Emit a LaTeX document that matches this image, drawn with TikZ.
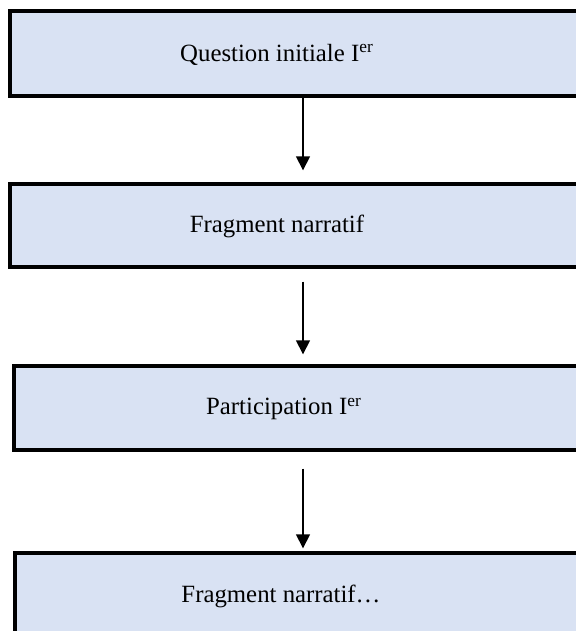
\documentclass[tikz,border=0pt]{standalone}
\usepackage{fontspec}
\setmainfont{Liberation Serif}
\usetikzlibrary{arrows.meta}
\definecolor{boxblue}{RGB}{217,226,243}
\begin{document}
\begin{tikzpicture}[x=0.5pt, y=-0.5pt]
    \useasboundingbox (0,0) rectangle (575,631);
    \tikzstyle{every node}=[rectangle, fill=boxblue, draw=black, line width=1.7pt, inner sep=0pt, minimum width=293pt]
    \tikzstyle{edge}=[-{Triangle[length=7pt, width=7pt]}, line width=0.8pt, black]

    \node[minimum height=42.5pt] (q) at (303,53.5) {};
    \node[minimum height=41.5pt] (f1) at (303,225.5) {};
    \node[minimum height=42pt, minimum width=289pt] (p) at (303,408) {};
    \node[minimum height=42pt, minimum width=288pt] (f2) at (303,595) {};

    \draw[edge, shorten >=6pt] (q) -- (f1);
    \draw[edge, shorten <=6.5pt, shorten >=5pt] (f1) -- (p);
    \draw[edge, shorten <=8.5pt, shorten >=1.5pt] (p) -- (f2);

    \tikzstyle{every node}=[font=\fontsize{12.4pt}{14pt}\selectfont, inner sep=0pt, text=black]
    \node (qt) at (277,55) {Question initiale I\textsuperscript{er}};
    \node (f1t) at (277,226) {Fragment narratif};
    \node (pt) at (284,409) {Participation I\textsuperscript{er}};
    \node (f2t) at (281,596) {Fragment narratif…};
\end{tikzpicture}
\end{document}
